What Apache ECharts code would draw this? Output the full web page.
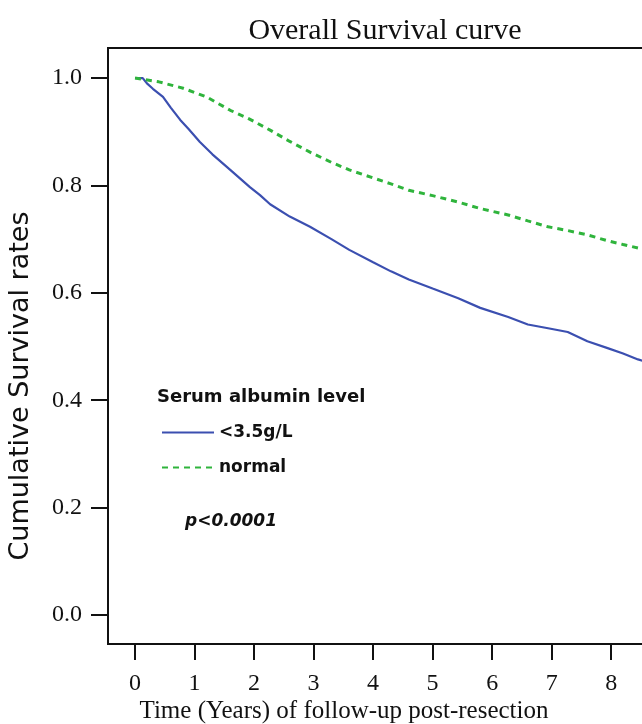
<!DOCTYPE html>
<html><head><meta charset="utf-8">
<script src="https://cdn.jsdelivr.net/npm/echarts@6/dist/echarts.min.js"></script>
<style>html,body{margin:0;padding:0;background:#fff}#c{width:642px;height:724px}</style>
</head><body><div id="c"></div>
<script>
const yTicks = [0.0, 0.2, 0.4, 0.6, 0.8, 1.0];
const xTicks = [0, 1, 2, 3, 4, 5, 6, 7, 8, 9, 10];
const lowTime = [0, 0.13, 0.2, 0.3, 0.47, 0.6, 0.76, 0.9, 1.09, 1.3, 1.6, 1.93, 2.1, 2.27, 2.6, 2.94, 3.3, 3.6, 4.0, 4.3, 4.6, 5.0, 5.43, 5.8, 6.27, 6.6, 6.94, 7.27, 7.6, 7.94, 8.2, 8.45, 8.7];
const lowSurv = [1.0, 1.0, 0.99, 0.98, 0.965, 0.945, 0.922, 0.905, 0.881, 0.858, 0.829, 0.797, 0.782, 0.765, 0.742, 0.723, 0.700, 0.680, 0.657, 0.640, 0.625, 0.608, 0.590, 0.572, 0.555, 0.541, 0.534, 0.527, 0.510, 0.497, 0.487, 0.476, 0.468];
const normTime = [0, 0.4, 0.81, 1.2, 1.6, 1.9, 2.27, 2.6, 2.94, 3.3, 3.6, 4.0, 4.3, 4.6, 5.0, 5.43, 5.8, 6.27, 6.6, 6.94, 7.27, 7.6, 7.94, 8.2, 8.47, 8.7];
const normSurv = [1.0, 0.993, 0.981, 0.965, 0.940, 0.925, 0.903, 0.882, 0.862, 0.843, 0.829, 0.814, 0.803, 0.791, 0.781, 0.769, 0.757, 0.745, 0.734, 0.723, 0.716, 0.708, 0.697, 0.690, 0.683, 0.678];
const seriesNames = ['<3.5g/L', 'normal'];

const serif = 'Liberation Serif';
const sans = 'DejaVu Sans';
const chart = echarts.init(document.getElementById('c'));
chart.setOption({
  animation: false,
  backgroundColor: '#fff',
  title: [
    {text: 'Overall Survival curve', left: 380, top: 11, textAlign: 'center',
     textStyle: {fontFamily: serif, fontSize: 30, fontWeight: 'normal', color: '#111'}}
  ],
  graphic: [
    {type: 'text', x: 344, y: 711, style: {text: 'Time (Years) of follow-up post-resection', align: 'center', verticalAlign: 'middle',
      font: '25px "Liberation Serif"', fill: '#111'}},
    {type: 'text', x: 21, y: 386, rotation: Math.PI / 2, style: {text: 'Cumulative Survival rates', align: 'center', verticalAlign: 'middle',
      font: '27px "DejaVu Sans"', fill: '#111'}},
    {type: 'text', x: 157, y: 397, style: {text: 'Serum albumin level', align: 'left', verticalAlign: 'middle',
      font: 'bold 18px "DejaVu Sans"', fill: '#111'}},
    {type: 'text', x: 185, y: 522, style: {text: 'p<0.0001', align: 'left', verticalAlign: 'middle',
      font: 'italic bold 17px "DejaVu Sans"', fill: '#111'}}
  ],
  legend: {
    orient: 'vertical', left: 156, top: 419, itemWidth: 52, itemHeight: 14, itemGap: 18,
    data: seriesNames, itemStyle: {opacity: 0},
    textStyle: {fontFamily: sans, fontSize: 17, fontWeight: 'bold', color: '#111'}
  },
  grid: {left: 108, top: 48, width: 649, height: 596, outerBoundsMode: 'none', show: true, borderColor: '#111', borderWidth: 2, backgroundColor: 'transparent'},
  xAxis: {
    type: 'value', min: -0.454, max: 10.45,
    axisLine: {show: false, onZero: false}, splitLine: {show: false},
    axisTick: {show: true, customValues: xTicks, length: 16, lineStyle: {color: '#111', width: 2}},
    axisLabel: {customValues: xTicks, fontFamily: serif, fontSize: 24, color: '#111', margin: 28, formatter: v => String(v)}
  },
  yAxis: {
    type: 'value', min: -0.054, max: 1.056,
    axisLine: {show: false, onZero: false}, splitLine: {show: false},
    axisTick: {show: true, customValues: yTicks, length: 17, lineStyle: {color: '#111', width: 2}},
    axisLabel: {customValues: yTicks, fontFamily: serif, fontSize: 24, color: '#111', margin: 26, formatter: v => v.toFixed(1)}
  },
  series: [
    {name: seriesNames[0], type: 'line', symbol: 'none', data: lowTime.map((t, i) => [t, lowSurv[i]]),
     lineStyle: {color: '#3b4fb0', width: 2.2}, itemStyle: {color: '#3b4fb0'}},
    {name: seriesNames[1], type: 'line', symbol: 'none', data: normTime.map((t, i) => [t, normSurv[i]]),
     lineStyle: {color: '#2fb43c', width: 3, type: [6, 5]}, itemStyle: {color: '#2fb43c'}}
  ]
});
</script></body></html>
